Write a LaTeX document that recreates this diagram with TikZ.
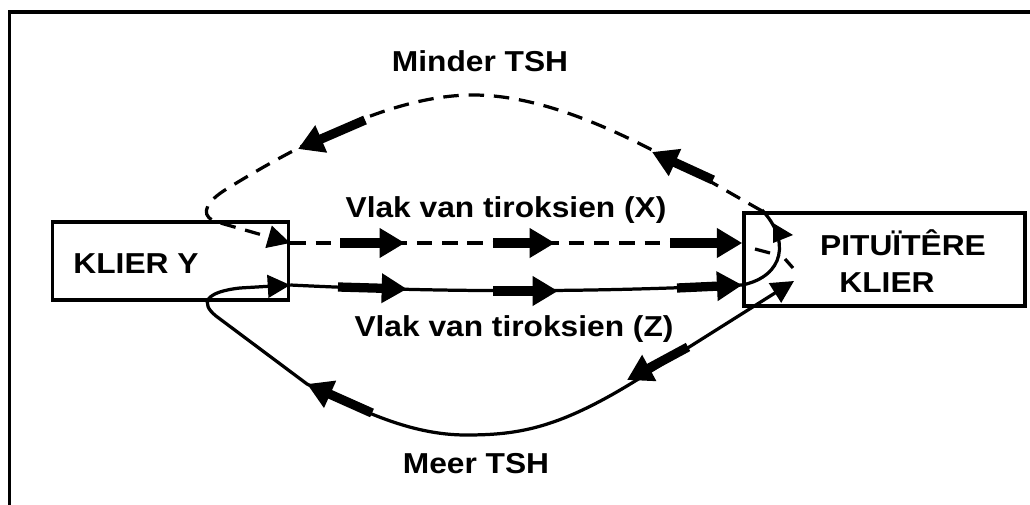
\documentclass[tikz,border=0pt]{standalone}
\usepackage{fontspec}
\setmainfont{Liberation Sans}[FakeStretch=1.1]
\usetikzlibrary{arrows.meta}

\tikzset{
  gland/.style={draw, line width=2.4pt, inner sep=0pt},
  tag/.style={font=\fontsize{20.5}{24}\selectfont\bfseries, inner sep=0pt, anchor=base},
  route/.style={line width=2.3pt},
  dashroute/.style={route, dash pattern=on 11pt off 7pt},
  pulse/.style={line width=6.6pt, -{Triangle[length=18pt,width=20pt]}},
}

\begin{document}
\begin{tikzpicture}[x=0.025cm, y=-0.025cm, >={Triangle[length=16pt,width=16pt]}]
  \useasboundingbox (0,0) rectangle (1030,505);
  % frame
  \draw[line width=2.8pt] (9.5,505) -- (9.5,12) -- (1030,12);

  % glands
  \node[gland, minimum width=5.9cm, minimum height=1.95cm] (klier) at (170.5,261) {};
  \node[gland, minimum width=7.025cm, minimum height=2.325cm] (pit) at (884.5,259.5) {};
  \node[tag] (klierY) at (136,273) {KLIER Y};
  \node[tag] (pitA) at (903,255) {PITUÏTÊRE};
  \node[tag] (pitB) at (887,292) {KLIER};

  \node[tag] (minder) at (480,72) {Minder TSH};
  \node[tag] (vlakx) at (506,217) {Vlak van tiroksien (X)};
  \node[tag] (vlakz) at (514,336) {Vlak van tiroksien (Z)};
  \node[tag] (meer) at (476,473) {Meer TSH};

  \coordinate (xa) at (klier.east |- 0,243);
  \coordinate (xb) at (pit.west |- 0,243);
  \coordinate (za) at (klier.east |- 0,285);
  \coordinate (zb) at (pit.west |- 0,285);

  % thyroxine level X
  \draw[dashroute] (xa) -- (xb);
  \draw[pulse] (340,243) -- (405,243);
  \draw[pulse] (493,243) -- (555,243);
  \draw[pulse] (670,243) -- (xb);

  % thyroxine level Z
  \draw[route] (za) .. controls (450,293) and (600,292) .. (zb);
  \draw[pulse] (338,287) -- (407,289);
  \draw[pulse] (493,291) -- (558,291);
  \draw[pulse] (677,288) -- (zb);

  % inside the pituitary
  \draw[route] (zb) .. controls (785,276) and (790,240) .. (762,210);
  \fill (773,223) -- (793,235) -- (773,243) -- cycle;
  \draw[route] (755,249) -- (770,253);
  \draw[route] (785,259) -- (793,268);

  % less TSH (top loop)
  \draw[dashroute, ->] (762,211) .. controls (680,165) and (570,95) .. (473,95)
    .. controls (410,95) and (330,125) .. (225,190)
    .. controls (200,206) and (203,218) .. (217,222) -- (xa);
  \draw[pulse] (365,120) -- (298,149);
  \draw[pulse] (713,180) -- (652,152);

  % more TSH (bottom loop)
  \draw[route, <->] (794,281) -- (640,378) .. controls (560,428) and (520,435) .. (466,435)
    .. controls (410,435) and (360,410) .. (307,384) -- (216,316)
    .. controls (200,303) and (205,292) .. (240,288) -- (za);
  \draw[pulse] (372,413) -- (307,384);
  \draw[pulse] (688,347) -- (627,380);
\end{tikzpicture}
\end{document}
